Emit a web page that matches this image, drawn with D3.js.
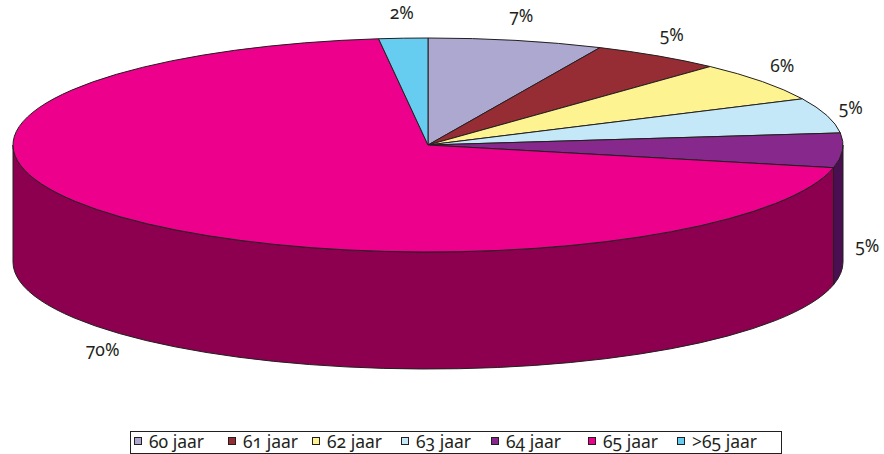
<!DOCTYPE html>
<html><head><meta charset="utf-8">
<script src="https://cdn.jsdelivr.net/npm/d3@7"></script>
<style>
body{margin:0;background:#fff;}
text{font-family:"Noto Sans",Lato,sans-serif;font-feature-settings:"onum" 1;font-variant-numeric:oldstyle-nums;fill:#231f20;}
</style></head>
<body>
<svg id="c" width="884" height="454"></svg>
<script>
const categories = ["60 jaar","61 jaar","62 jaar","63 jaar","64 jaar","65 jaar",">65 jaar"];
const values = [6.8, 5.1, 6.0, 5.3, 5.2, 69.7, 1.9];
const labels = ["7%","5%","6%","5%","5%","70%","2%"];
const topColors = ["#aca8d0","#962d34","#fef391","#c4e8f8","#86288c","#ec008c","#66ccf0"];
const sideColors = ["#6e6a91","#5e1a20","#b0a860","#7fa6b8","#4a0f50","#8c004f","#3a8fb0"];

const svg = d3.select("#c");
const cx = 428, cy = 145, rx = 415, ry = 107, depth = 117;
const stroke = "#231f20";

const pie = d3.pie().sort(null).value(d => d)(values);
const pt = (t, dy=0) => [cx + rx*Math.sin(t), cy - ry*Math.cos(t) + dy];

// side walls (front half: angles between PI/2 and 3PI/2)
const gSide = svg.append("g");
pie.forEach((p,i) => {
  const s = Math.max(p.startAngle, Math.PI/2), e = Math.min(p.endAngle, 3*Math.PI/2);
  if (e <= s) return;
  const a = pt(s), b = pt(e), b2 = pt(e, depth), a2 = pt(s, depth);
  const large = (e - s) > Math.PI ? 1 : 0;
  const d = `M${a}A${rx},${ry} 0 ${large} 1 ${b}L${b2}A${rx},${ry} 0 ${large} 0 ${a2}Z`;
  gSide.append("path").attr("d", d).attr("fill", sideColors[i])
    .attr("stroke", stroke).attr("stroke-width", 1).attr("stroke-linejoin","round");
});

// top slices
const gTop = svg.append("g");
pie.forEach((p,i) => {
  const a = pt(p.startAngle), b = pt(p.endAngle);
  const large = (p.endAngle - p.startAngle) > Math.PI ? 1 : 0;
  const d = `M${cx},${cy}L${a}A${rx},${ry} 0 ${large} 1 ${b}Z`;
  gTop.append("path").attr("d", d).attr("fill", topColors[i])
    .attr("stroke", stroke).attr("stroke-width", 1).attr("stroke-linejoin","round");
});

// labels
const gLab = svg.append("g");
pie.forEach((p,i) => {
  const m = (p.startAngle + p.endAngle)/2;
  const s = Math.sin(m), c = Math.cos(m);
  let x = cx + 1.06*rx*s, y;
  if (c >= 0) y = cy - 1.22*ry*c;
  else y = cy + 0.8*depth - 1.56*ry*c;
  gLab.append("text").attr("x", x).attr("y", y).attr("text-anchor","middle")
    .attr("dominant-baseline","middle").attr("font-size", 17.5).text(labels[i]);
});

// legend
const lg = svg.append("g");
lg.append("rect").attr("x",130.5).attr("y",431.5).attr("width",651).attr("height",22)
  .attr("fill","#fff").attr("stroke",stroke).attr("stroke-width",1);
const legX = [134, 228, 312, 401, 491, 588, 677];
categories.forEach((cat,i) => {
  lg.append("rect").attr("x",legX[i]+0.5).attr("y",437.5).attr("width",7).attr("height",7)
    .attr("fill",topColors[i]).attr("stroke",stroke).attr("stroke-width",1);
  lg.append("text").attr("x",legX[i]+15).attr("y",447.5).attr("font-size",17.5).text(cat);
});
</script>
</body></html>
